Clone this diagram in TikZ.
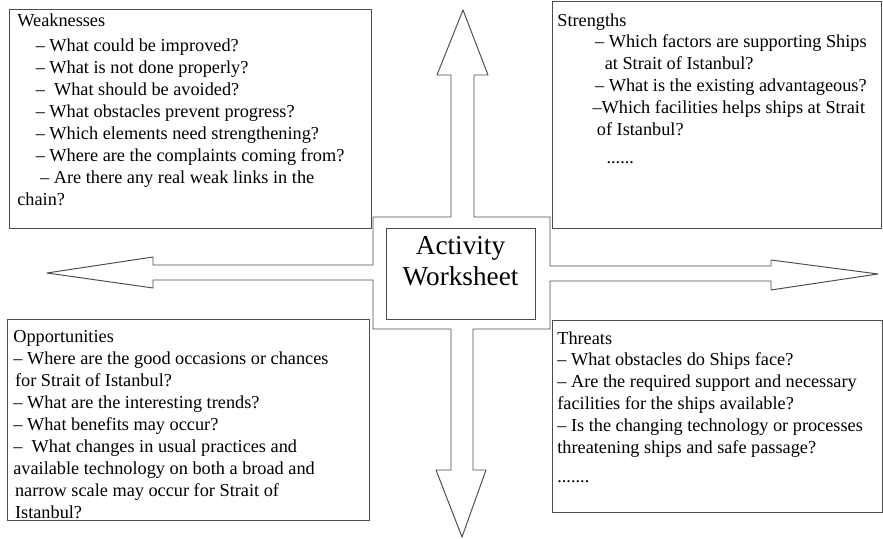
\documentclass[tikz,border=0pt]{standalone}
\usepackage{fontspec}
\setmainfont{Liberation Serif}
\usepackage{tikz}

\begin{document}
\begin{tikzpicture}[
		panel/.style={draw=black!70, line width=0.55pt, anchor=north west, inner sep=0pt},
		paneltext/.style={anchor=north west, align=left, inner sep=0pt, font=\fontsize{10.4}{12.5}\selectfont},
		hubnode/.style={draw=black!70, line width=0.55pt, minimum width=2.98cm, minimum height=1.82cm, align=center, font=\fontsize{15.5}{17.5}\selectfont}
	]
	\useasboundingbox (0,0) rectangle (17.66,10.78);

	\node[panel, minimum width=7.24cm, minimum height=4.38cm] (weak) at (0.18,10.60) {};
	\node[panel, minimum width=6.58cm, minimum height=4.54cm] (strong) at (11.04,10.76) {};
	\node[panel, minimum width=7.24cm, minimum height=4.02cm] (opp) at (0.14,4.40) {};
	\node[panel, minimum width=6.60cm, minimum height=3.84cm] (threat) at (11.04,4.38) {};

	\node[paneltext] (weaktxt) at (0.34,10.52) {Weaknesses\\[2pt]
		\hspace*{10.5pt}– What could be improved?\\
		\hspace*{10.5pt}– What is not done properly?\\
		\hspace*{10.5pt}–\ \ What should be avoided?\\
		\hspace*{10.5pt}– What obstacles prevent progress?\\
		\hspace*{10.5pt}– Which elements need strengthening?\\
		\hspace*{10.5pt}– Where are the complaints coming from?\\
		\hspace*{13pt}– Are there any real weak links in the\\
		chain?};

	\node[paneltext] (strongtxt) at (11.14,10.52) {Strengths\\
		\hspace*{21.5pt}– Which factors are supporting Ships\\
		\hspace*{27pt}at Strait of Istanbul?\\
		\hspace*{21.5pt}– What is the existing advantageous?\\
		\hspace*{20pt}–Which facilities helps ships at Strait\\
		\hspace*{22.5pt}of Istanbul?\\[3pt]
		\hspace*{28pt}......};

	\node[paneltext] (opptxt) at (0.26,4.18) {Opportunities\\
		– Where are the good occasions or chances\\
		\hspace*{1pt}for Strait of Istanbul?\\
		– What are the interesting trends?\\
		– What benefits may occur?\\
		–\ \ What changes in usual practices and\\
		available technology on both a broad and\\
		\hspace*{1pt}narrow scale may occur for Strait of\\
		\hspace*{1pt}Istanbul?};

	\node[paneltext] (threattxt) at (11.14,4.16) {Threats\\
		– What obstacles do Ships face?\\
		– Are the required support and necessary\\
		facilities for the ships available?\\
		– Is the changing technology or processes\\
		threatening ships and safe passage?\\[4pt]
		.......};

	\draw[black!70, line width=0.55pt, line join=round]
		(9.26,10.58) -- (9.76,9.28) -- (9.48,9.28) -- (9.48,6.44) -- (11.00,6.44)
		-- (11.00,5.46) -- (15.42,5.46) -- (15.42,5.58) -- (17.56,5.30) -- (15.42,4.98)
		-- (15.42,5.16) -- (11.00,5.16) -- (11.00,4.20) -- (9.46,4.20) -- (9.46,1.38)
		-- (9.72,1.38) -- (9.24,0.04) -- (8.72,1.38) -- (9.02,1.38) -- (9.02,4.20)
		-- (7.46,4.20) -- (7.46,5.18) -- (3.06,5.18) -- (3.06,5.02) -- (0.94,5.32)
		-- (3.06,5.64) -- (3.06,5.48) -- (7.46,5.48) -- (7.46,6.44) -- (9.02,6.44)
		-- (9.02,9.28) -- (8.74,9.28) -- cycle;

	\node[hubnode, fill=white] (hub) at (9.21,5.31) {Activity\\Worksheet\\[-3pt]};

\end{tikzpicture}
\end{document}
